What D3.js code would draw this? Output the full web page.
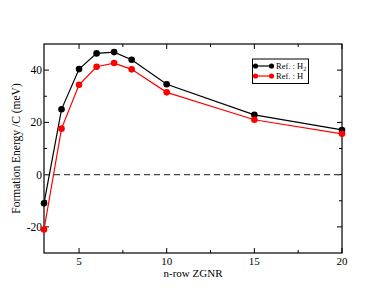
<!DOCTYPE html>
<html><head><meta charset="utf-8">
<script src="https://d3js.org/d3.v7.min.js"></script>
<style>body{margin:0;background:#fff}svg{display:block}</style>
</head><body>
<script>
const nRows = [3,4,5,6,7,8,10,15,20];
const refH2 = [-11,25,40.4,46.4,46.9,44,34.6,22.9,17.1];
const refH  = [-21,17.6,34.4,41.3,42.7,40.3,31.5,21,15.6];
const xTicks = [5,10,15,20];
const yTicks = [-20,0,20,40];
const seriesNames = ["H2","H"];

const W=385,H=298;
const m={l:44,r:43,t:44,b:45};
const svg=d3.select("body").append("svg").attr("width",W).attr("height",H)
  .attr("font-family","'Liberation Serif','Times New Roman',Times,serif");
const x=d3.scaleLinear().domain([3,20]).range([m.l,W-m.r]);
const y=d3.scaleLinear().domain([-30,50]).range([H-m.b,m.t]);
const x0=x.range()[0],x1=x.range()[1],y0=y.range()[0],y1=y.range()[1];

// frame
svg.append("rect").attr("x",x0).attr("y",y1).attr("width",x1-x0).attr("height",y0-y1)
  .attr("fill","none").attr("stroke","#000").attr("stroke-width",1.2);

const g=svg.append("g").attr("stroke","#000").attr("stroke-width",1);
const xMinor=[7.5,12.5,17.5];
xTicks.forEach(v=>{g.append("line").attr("x1",x(v)).attr("x2",x(v)).attr("y1",y0).attr("y2",y0-5);
  g.append("line").attr("x1",x(v)).attr("x2",x(v)).attr("y1",y1).attr("y2",y1+5);});
xMinor.forEach(v=>{g.append("line").attr("x1",x(v)).attr("x2",x(v)).attr("y1",y0).attr("y2",y0-3);
  g.append("line").attr("x1",x(v)).attr("x2",x(v)).attr("y1",y1).attr("y2",y1+3);});
const yMinor=[-10,10,30];
yTicks.forEach(v=>{g.append("line").attr("x1",x0).attr("x2",x0+5).attr("y1",y(v)).attr("y2",y(v));
  g.append("line").attr("x1",x1).attr("x2",x1-5).attr("y1",y(v)).attr("y2",y(v));});
yMinor.forEach(v=>{g.append("line").attr("x1",x0).attr("x2",x0+3).attr("y1",y(v)).attr("y2",y(v));
  g.append("line").attr("x1",x1).attr("x2",x1-3).attr("y1",y(v)).attr("y2",y(v));});

xTicks.forEach(v=>svg.append("text").attr("x",x(v)).attr("y",y0+11.5).attr("text-anchor","middle")
  .attr("font-size",11).text(v));
yTicks.forEach(v=>svg.append("text").attr("x",x0-2).attr("y",y(v)+4).attr("text-anchor","end")
  .attr("font-size",11.5).text(v));

svg.append("text").attr("x",(x0+x1)/2).attr("y",y0+23.5).attr("text-anchor","middle").attr("font-size",11).text("n-row ZGNR");
svg.append("text").attr("transform",`translate(20,${(y0+y1)/2}) rotate(-90)`).attr("text-anchor","middle")
  .attr("font-size",11.5).text("Formation Energy /C (meV)");

// zero line
svg.append("line").attr("x1",x0).attr("x2",x1).attr("y1",y(0)).attr("y2",y(0))
  .attr("stroke","#444").attr("stroke-width",1.3).attr("stroke-dasharray","6,4");

const line=d3.line().x((d,i)=>x(nRows[i])).y(d=>y(d));
[[refH2,"#000"],[refH,"#f00"]].forEach(([s,c])=>{
  svg.append("path").attr("d",line(s)).attr("fill","none").attr("stroke",c).attr("stroke-width",1.2);
  svg.selectAll(null).data(s).enter().append("circle").attr("cx",(d,i)=>x(nRows[i])).attr("cy",d=>y(d))
    .attr("r",3.3).attr("fill",c);
});

// legend
const lg=svg.append("g");
lg.append("rect").attr("x",252.5).attr("y",59).attr("width",56).attr("height",24.5).attr("fill","#fff").attr("stroke","#000").attr("stroke-width",1);
[["#000",66,"2"],["#f00",76,null]].forEach(([c,yy,sub])=>{
  lg.append("line").attr("x1",255).attr("x2",272).attr("y1",yy).attr("y2",yy).attr("stroke",c).attr("stroke-width",1.2);
  lg.append("circle").attr("cx",255.5).attr("cy",yy).attr("r",2.6).attr("fill",c);
  lg.append("circle").attr("cx",271.5).attr("cy",yy).attr("r",2.6).attr("fill",c);
  const t=lg.append("text").attr("x",276).attr("y",yy+3).attr("font-size",8.5).text("Ref. : H");
  if(sub) t.append("tspan").attr("font-size",6).attr("dy",2).text(sub);
});
</script>
</body></html>
